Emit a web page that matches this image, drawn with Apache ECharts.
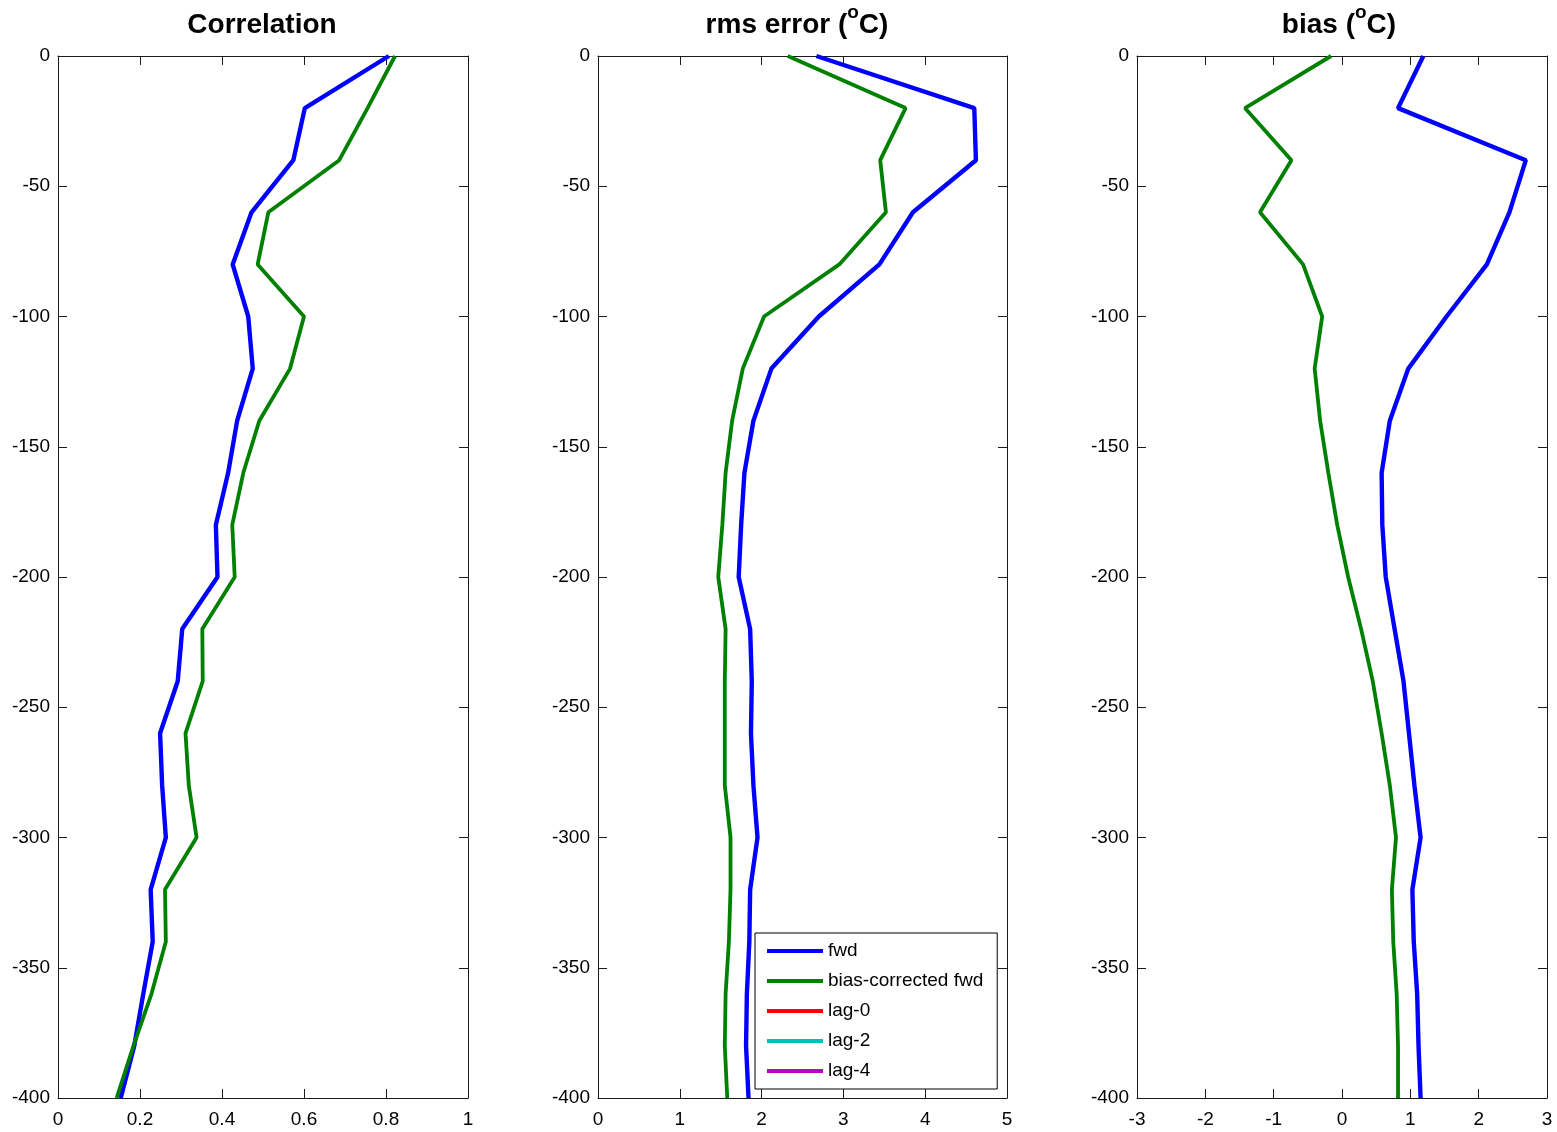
<!DOCTYPE html>
<html>
<head>
<meta charset="utf-8">
<script src="https://cdn.jsdelivr.net/npm/echarts@6/dist/echarts.min.js"></script>
<style>
html,body{margin:0;padding:0;background:#fff;}
#chart{width:1557px;height:1132px;}
</style>
</head>
<body>
<div id="chart"></div>
<script>
// Depth levels (m)
const depth = [0,-20,-40,-60,-80,-100,-120,-140,-160,-180,-200,-220,-240,-260,-280,-300,-320,-340,-360,-380,-400];

// Correlation
const corrFwd = [0.807,0.602,0.574,0.472,0.426,0.464,0.475,0.437,0.415,0.385,0.389,0.303,0.292,0.249,0.254,0.263,0.226,0.231,0.208,0.186,0.153];
const corrBc  = [0.822,0.755,0.686,0.513,0.487,0.600,0.566,0.491,0.452,0.425,0.431,0.352,0.353,0.311,0.319,0.338,0.261,0.263,0.228,0.184,0.143];

// rms error (degC)
const rmsFwd = [2.67,4.60,4.62,3.85,3.44,2.70,2.12,1.90,1.79,1.75,1.72,1.86,1.88,1.87,1.90,1.95,1.86,1.85,1.82,1.81,1.84];
const rmsBc  = [2.32,3.76,3.45,3.52,2.95,2.03,1.77,1.64,1.56,1.52,1.47,1.56,1.55,1.55,1.55,1.62,1.62,1.60,1.56,1.55,1.58];

// bias (degC)
const biasFwd = [1.19,0.82,2.69,2.45,2.12,1.53,0.97,0.70,0.58,0.59,0.64,0.77,0.90,0.98,1.06,1.15,1.03,1.05,1.10,1.12,1.15];
const biasBc  = [-0.16,-1.42,-0.74,-1.20,-0.57,-0.29,-0.40,-0.32,-0.20,-0.07,0.09,0.28,0.45,0.58,0.70,0.79,0.73,0.75,0.80,0.82,0.82];

// Axis settings
const titles = ['Correlation', 'rms error ({sup|o}C)', 'bias ({sup|o}C)'];
const titleCenters = [262, 797, 1339];
const xMin = [0, 0, -3];
const xMax = [1, 5, 3];
const xInterval = [0.2, 1, 1];
const yMin = -400, yMax = 0, yInterval = 50;

const legendNames = ['fwd','bias-corrected fwd','lag-0','lag-2','lag-4'];
const colors = {'fwd':'#0000ff','bias-corrected fwd':'#008000','lag-0':'#ff0000','lag-2':'#00bfbf','lag-4':'#bf00bf'};

const FONT = '"Liberation Sans", Arial, Helvetica, sans-serif';
const axisColor = '#1a1a1a';

const grids = [
  {left:58, top:56, width:410, height:1042},
  {left:598, top:56, width:409, height:1042},
  {left:1137, top:56, width:410, height:1042}
];

function fmtX(v){
  return String(Math.round(v*10)/10);
}

const xAxes = [], yAxes = [];
for (let g = 0; g < 3; g++) {
  xAxes.push({
    type:'value', gridIndex:g, position:'bottom', min:xMin[g], max:xMax[g], interval:xInterval[g],
    axisLine:{show:true, onZero:false, lineStyle:{color:axisColor, width:1}},
    axisTick:{show:true, inside:true, length:9, lineStyle:{color:axisColor}},
    axisLabel:{show:true, color:'#000', fontSize:19, fontFamily:FONT, margin:12, formatter:fmtX},
    splitLine:{show:false}
  });
  xAxes.push({
    type:'value', gridIndex:g, position:'top', min:xMin[g], max:xMax[g], interval:xInterval[g],
    axisLine:{show:true, onZero:false, lineStyle:{color:axisColor, width:1}},
    axisTick:{show:true, inside:true, length:9, lineStyle:{color:axisColor}},
    axisLabel:{show:false},
    splitLine:{show:false}
  });
  yAxes.push({
    type:'value', gridIndex:g, position:'left', min:yMin, max:yMax, interval:yInterval,
    axisLine:{show:true, onZero:false, lineStyle:{color:axisColor, width:1}},
    axisTick:{show:true, inside:true, length:9, lineStyle:{color:axisColor}},
    axisLabel:{show:true, color:'#000', fontSize:19, fontFamily:FONT, margin:8, padding:[6,0,0,0]},
    splitLine:{show:false}
  });
  yAxes.push({
    type:'value', gridIndex:g, position:'right', min:yMin, max:yMax, interval:yInterval,
    axisLine:{show:true, onZero:false, lineStyle:{color:axisColor, width:1}},
    axisTick:{show:true, inside:true, length:9, lineStyle:{color:axisColor}},
    axisLabel:{show:false},
    splitLine:{show:false}
  });
}

function pairs(vals){ return depth.map((d,i)=>[vals[i], d]); }

function lineSeries(name, vals, g, width){
  return {
    name:name, type:'line', xAxisIndex:g*2, yAxisIndex:g*2,
    data: vals ? pairs(vals) : [],
    showSymbol:false, symbol:'none', silent:true, animation:false,
    lineStyle:{color:colors[name], width:width},
    itemStyle:{color:colors[name]}
  };
}

const series = [
  lineSeries('fwd', corrFwd, 0, 4.4),
  lineSeries('bias-corrected fwd', corrBc, 0, 3.8),
  lineSeries('fwd', rmsFwd, 1, 4.4),
  lineSeries('bias-corrected fwd', rmsBc, 1, 3.8),
  lineSeries('lag-0', null, 1, 4),
  lineSeries('lag-2', null, 1, 4),
  lineSeries('lag-4', null, 1, 4),
  lineSeries('fwd', biasFwd, 2, 4.4),
  lineSeries('bias-corrected fwd', biasBc, 2, 3.8)
];

const titleOpts = titles.map((t,i)=>({
  text:t, left:titleCenters[i], top:3, textAlign:'center', padding:0,
  textStyle:{
    fontSize:28, fontWeight:'bold', color:'#000', fontFamily:FONT, lineHeight:44,
    rich:{
      sup:{fontSize:19, fontWeight:'bold', color:'#000', fontFamily:FONT, verticalAlign:'top', lineHeight:20}
    }
  }
}));

const option = {
  backgroundColor:'#fff',
  animation:false,
  title: titleOpts,
  grid: grids,
  xAxis: xAxes,
  yAxis: yAxes,
  legend:{
    data: legendNames,
    orient:'vertical', left:755, top:933,
    padding:[3,14,3,12],
    itemWidth:56, itemHeight:4, itemGap:0, icon:'rect',
    borderColor:'#000', borderWidth:1, backgroundColor:'#fff',
    selectedMode:false,
    textStyle:{fontSize:19, lineHeight:30, color:'#000', fontFamily:FONT}
  },
  series: series
};

const chart = echarts.init(document.getElementById('chart'), null, {renderer:'canvas'});
chart.setOption(option);
</script>
</body>
</html>
